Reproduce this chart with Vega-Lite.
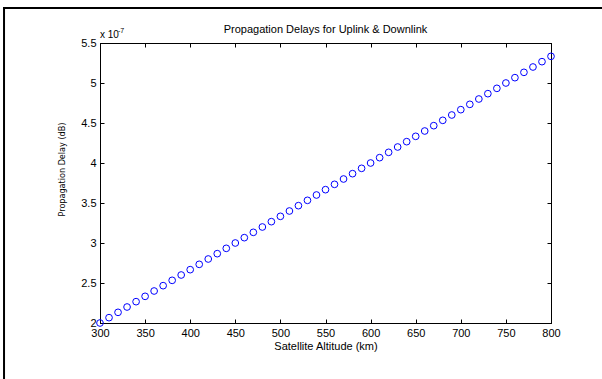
{
  "$schema": "https://vega.github.io/schema/vega-lite/v6.json",
  "width": 451,
  "height": 280,
  "autosize": {"type": "none"},
  "padding": {"left": 100, "top": 43, "right": 51, "bottom": 56},
  "background": "white",
  "title": {
    "text": "Propagation Delays for Uplink & Downlink",
    "font": "Liberation Sans",
    "fontSize": 11,
    "fontWeight": "normal",
    "color": "#000000",
    "offset": -28
  },
  "config": {
    "view": {"stroke": "#000000", "strokeWidth": 1},
    "axis": {
      "grid": false,
      "domainColor": "#000000",
      "tickColor": "#000000",
      "tickSize": -4,
      "labelFont": "Liberation Sans",
      "labelFontSize": 11,
      "labelColor": "#000000",
      "titleFont": "Liberation Sans",
      "titleFontWeight": "normal",
      "titleColor": "#000000"
    }
  },
  "data": {
    "values": [
      {"altitude": 300, "delay": 2.0e-7},
      {"altitude": 310, "delay": 2.0667e-7},
      {"altitude": 320, "delay": 2.1333e-7},
      {"altitude": 330, "delay": 2.2e-7},
      {"altitude": 340, "delay": 2.2667e-7},
      {"altitude": 350, "delay": 2.3333e-7},
      {"altitude": 360, "delay": 2.4e-7},
      {"altitude": 370, "delay": 2.4667e-7},
      {"altitude": 380, "delay": 2.5333e-7},
      {"altitude": 390, "delay": 2.6e-7},
      {"altitude": 400, "delay": 2.6667e-7},
      {"altitude": 410, "delay": 2.7333e-7},
      {"altitude": 420, "delay": 2.8e-7},
      {"altitude": 430, "delay": 2.8667e-7},
      {"altitude": 440, "delay": 2.9333e-7},
      {"altitude": 450, "delay": 3.0e-7},
      {"altitude": 460, "delay": 3.0667e-7},
      {"altitude": 470, "delay": 3.1333e-7},
      {"altitude": 480, "delay": 3.2e-7},
      {"altitude": 490, "delay": 3.2667e-7},
      {"altitude": 500, "delay": 3.3333e-7},
      {"altitude": 510, "delay": 3.4e-7},
      {"altitude": 520, "delay": 3.4667e-7},
      {"altitude": 530, "delay": 3.5333e-7},
      {"altitude": 540, "delay": 3.6e-7},
      {"altitude": 550, "delay": 3.6667e-7},
      {"altitude": 560, "delay": 3.7333e-7},
      {"altitude": 570, "delay": 3.8e-7},
      {"altitude": 580, "delay": 3.8667e-7},
      {"altitude": 590, "delay": 3.9333e-7},
      {"altitude": 600, "delay": 4.0e-7},
      {"altitude": 610, "delay": 4.0667e-7},
      {"altitude": 620, "delay": 4.1333e-7},
      {"altitude": 630, "delay": 4.2e-7},
      {"altitude": 640, "delay": 4.2667e-7},
      {"altitude": 650, "delay": 4.3333e-7},
      {"altitude": 660, "delay": 4.4e-7},
      {"altitude": 670, "delay": 4.4667e-7},
      {"altitude": 680, "delay": 4.5333e-7},
      {"altitude": 690, "delay": 4.6e-7},
      {"altitude": 700, "delay": 4.6667e-7},
      {"altitude": 710, "delay": 4.7333e-7},
      {"altitude": 720, "delay": 4.8e-7},
      {"altitude": 730, "delay": 4.8667e-7},
      {"altitude": 740, "delay": 4.9333e-7},
      {"altitude": 750, "delay": 5.0e-7},
      {"altitude": 760, "delay": 5.0667e-7},
      {"altitude": 770, "delay": 5.1333e-7},
      {"altitude": 780, "delay": 5.2e-7},
      {"altitude": 790, "delay": 5.2667e-7},
      {"altitude": 800, "delay": 5.3333e-7}
    ]
  },
  "layer": [
    {
      "mark": {"type": "point", "shape": "circle", "filled": false, "color": "#0000ff", "size": 45, "strokeWidth": 1, "opacity": 1},
      "encoding": {
        "x": {
          "field": "altitude", "type": "quantitative",
          "scale": {"domain": [300, 800], "nice": false, "zero": false},
          "axis": {"orient": "bottom", "values": [300, 350, 400, 450, 500, 550, 600, 650, 700, 750, 800], "title": "Satellite Altitude (km)", "titleFontSize": 11, "labelPadding": 8, "titlePadding": 2, "labelFlush": false}
        },
        "y": {
          "field": "delay", "type": "quantitative",
          "scale": {"domain": [2e-7, 5.5e-7], "nice": false, "zero": false},
          "axis": {
            "orient": "left",
            "values": [2e-7, 2.5e-7, 3e-7, 3.5e-7, 4e-7, 4.5e-7, 5e-7, 5.5e-7],
            "labelExpr": "format(datum.value * 1e7, '~g')",
            "labelPadding": 8,
            "title": "Propagation Delay (dB)",
            "titleFont": "DejaVu Sans Condensed, Liberation Sans",
            "titleFontSize": 9,
            "titleX": -39,
            "titleY": 126,
            "titleAngle": -90,
            "titleAlign": "center",
            "titleBaseline": "middle"
          }
        }
      }
    },
    {
      "mark": {"type": "point", "opacity": 0},
      "encoding": {
        "x": {
          "field": "altitude", "type": "quantitative",
          "axis": {"orient": "top", "values": [300, 350, 400, 450, 500, 550, 600, 650, 700, 750, 800], "labels": false, "title": null}
        },
        "y": {
          "field": "delay", "type": "quantitative",
          "axis": {"orient": "right", "values": [2e-7, 2.5e-7, 3e-7, 3.5e-7, 4e-7, 4.5e-7, 5e-7, 5.5e-7], "labels": false, "title": null}
        }
      }
    },
    {
      "data": {"values": [
        {"fx": 193.6, "fx2": 193.6, "fy": 5.9375e-7, "fy2": 1.2e-7},
        {"fx": 193.6, "fx2": 870, "fy": 5.9375e-7, "fy2": 5.9375e-7}
      ]},
      "mark": {"type": "rule", "color": "#000000", "strokeWidth": 2, "strokeCap": "square"},
      "encoding": {
        "x": {"field": "fx", "type": "quantitative", "axis": null},
        "x2": {"field": "fx2"},
        "y": {"field": "fy", "type": "quantitative", "axis": null},
        "y2": {"field": "fy2"}
      }
    },
    {
      "data": {"values": [{"altitude": 300, "delay": 5.5e-7, "label": "x 10", "exp": "-7"}]},
      "layer": [
        {
          "mark": {"type": "text", "align": "left", "baseline": "bottom", "dy": -3, "font": "Liberation Sans", "fontSize": 10, "color": "#000000"},
          "encoding": {
            "x": {"field": "altitude", "type": "quantitative", "axis": null},
            "y": {"field": "delay", "type": "quantitative", "axis": null},
            "text": {"field": "label"}
          }
        },
        {
          "mark": {"type": "text", "align": "left", "baseline": "bottom", "dx": 18, "dy": -9, "font": "Liberation Sans", "fontSize": 7, "color": "#000000"},
          "encoding": {
            "x": {"field": "altitude", "type": "quantitative", "axis": null},
            "y": {"field": "delay", "type": "quantitative", "axis": null},
            "text": {"field": "exp"}
          }
        }
      ]
    }
  ],
  "resolve": {"axis": {"x": "independent", "y": "independent"}}
}
